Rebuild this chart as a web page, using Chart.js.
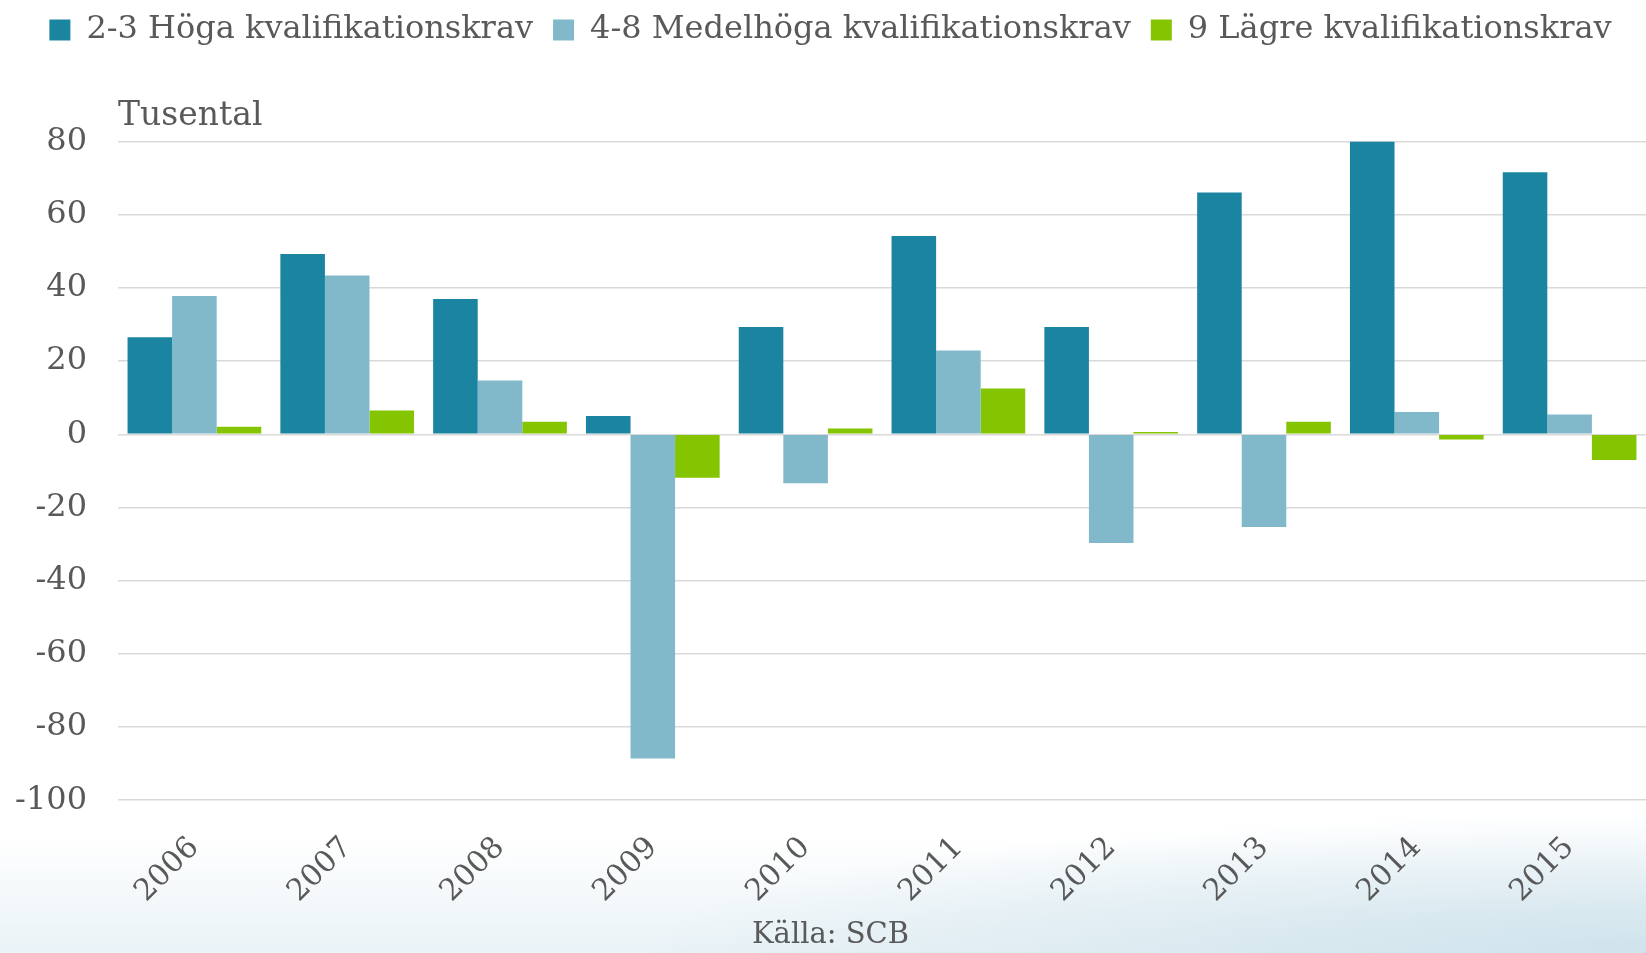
<!DOCTYPE html>
<html>
<head>
<meta charset="utf-8">
<script src="https://cdn.jsdelivr.net/npm/chart.js@4"></script>
<style>
  html, body { margin: 0; padding: 0; }
  body {
    width: 1646px; height: 953px; overflow: hidden;
    background:
      radial-gradient(ellipse 1000px 140px at 100% 100%, #cfe3ec, rgba(255,255,255,0)),
      linear-gradient(to bottom, #ffffff 88%, #e9f2f6 100%);
  }
  #wrap { position: relative; width: 1646px; height: 953px; }
</style>
</head>
<body>
<div id="wrap"><canvas id="chart"></canvas></div>
<script>
// years on the x axis
const years = ['2006', '2007', '2008', '2009', '2010', '2011', '2012', '2013', '2014', '2015'];
// change in thousands (Tusental) per group
const hoga = [26.5, 49.3, 37.0, 5.0, 29.3, 54.2, 29.3, 66.1, 80.0, 71.6];
const medel = [37.8, 43.4, 14.7, -88.6, -13.4, 22.9, -29.7, -25.3, 6.1, 5.4];
const lagre = [2.1, 6.5, 3.4, -11.9, 1.6, 12.5, 0.6, 3.4, -1.4, -7.0];
const seriesNames = ['2-3 Höga kvalifikationskrav', '4-8 Medelhöga kvalifikationskrav', '9 Lägre kvalifikationskrav'];

const textColor = '#595959';
const fontFamily = "'DejaVu Serif', 'Liberation Serif', serif";

const ctx = document.getElementById('chart').getContext('2d');
const chart = new Chart(ctx, {
    type: 'bar',
    data: {
        labels: years,
        datasets: [
            { label: seriesNames[0], data: hoga, backgroundColor: '#1B84A1' },
            { label: seriesNames[1], data: medel, backgroundColor: '#81B9CB' },
            { label: seriesNames[2], data: lagre, backgroundColor: '#84C400' }
        ]
    },
    options: {
        responsive: true,
        maintainAspectRatio: false,
        animation: false,
        layout: { padding: { left: 15, right: 0, top: -6, bottom: 0 } },
        datasets: {
            bar: { categoryPercentage: 0.875, barPercentage: 1.0 }
        },
        plugins: {
            legend: {
                position: 'top',
                labels: {
                    color: textColor,
                    font: { family: fontFamily, size: 32 },
                    boxWidth: 21,
                    boxHeight: 21,
                    padding: 20
                }
            },
            title: {
                display: true,
                text: 'Tusental',
                align: 'start',
                fullSize: false,
                weight: 500,
                color: textColor,
                font: { family: fontFamily, size: 33, weight: 'normal' },
                padding: { top: 41, bottom: 5 }
            },
            subtitle: {
                display: true,
                text: 'Källa: SCB',
                position: 'bottom',
                color: textColor,
                font: { family: fontFamily, size: 29, weight: 'normal' },
                padding: { top: 0, bottom: 0 }
            },
            tooltip: { enabled: false }
        },
        scales: {
            x: {
                grid: { display: false },
                border: { display: false },
                ticks: {
                    color: textColor,
                    font: { family: fontFamily, size: 30 },
                    minRotation: 45,
                    maxRotation: 45,
                    autoSkip: false,
                    padding: 22
                },
                afterFit: function(scale) { scale.height = 118; }
            },
            y: {
                min: -100,
                max: 80,
                grid: { color: '#d9d9d9', lineWidth: 1.5, drawTicks: false },
                border: { display: false },
                ticks: {
                    stepSize: 20,
                    color: textColor,
                    font: { family: fontFamily, size: 32 },
                    padding: 31
                },
                // fixed axis width so the plot starts where the original does
                afterFit: function(scale) { scale.width = 103; }
            }
        }
    }
});
</script>
</body>
</html>
